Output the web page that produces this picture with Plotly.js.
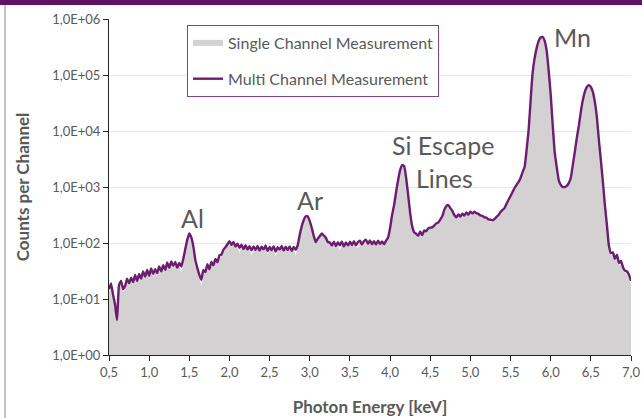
<!DOCTYPE html>
<html>
<head>
<meta charset="utf-8">
<script src="https://cdn.plot.ly/plotly-3.0.1.min.js"></script>
<style>
  html, body { margin: 0; padding: 0; background: #ffffff; }
  #wrap { position: relative; width: 642px; height: 418px; overflow: hidden; }
  #chart { position: absolute; left: 0; top: 0; width: 642px; height: 418px; }
  #topbar { position: absolute; left: 0; top: 0; width: 642px; height: 5px; background: #5e1363; }
  #leftline { position: absolute; left: 4px; top: 5px; width: 2px; height: 413px; background: #c3c3c3; }
</style>
</head>
<body>
<div id="wrap">
  <div id="chart"></div>
  <div id="topbar"></div>
  <div id="leftline"></div>
</div>
<script>
// Photon energy in keV
const energy = [
  0.500, 0.525, 0.550, 0.575, 0.600, 0.625, 0.650, 0.675,
  0.700, 0.725, 0.750, 0.775, 0.800, 0.825, 0.850, 0.875,
  0.900, 0.925, 0.950, 0.975, 1.000, 1.025, 1.050, 1.075,
  1.100, 1.125, 1.150, 1.175, 1.200, 1.225, 1.250, 1.275,
  1.300, 1.325, 1.350, 1.375, 1.400, 1.425, 1.450, 1.475,
  1.500, 1.525, 1.550, 1.575, 1.600, 1.625, 1.650, 1.675,
  1.700, 1.725, 1.750, 1.775, 1.800, 1.825, 1.850, 1.875,
  1.900, 1.925, 1.950, 1.975, 2.000, 2.025, 2.050, 2.075,
  2.100, 2.125, 2.150, 2.175, 2.200, 2.225, 2.250, 2.275,
  2.300, 2.325, 2.350, 2.375, 2.400, 2.425, 2.450, 2.475,
  2.500, 2.525, 2.550, 2.575, 2.600, 2.625, 2.650, 2.675,
  2.700, 2.725, 2.750, 2.775, 2.800, 2.825, 2.850, 2.875,
  2.900, 2.925, 2.950, 2.975, 3.000, 3.025, 3.050, 3.075,
  3.100, 3.125, 3.150, 3.175, 3.200, 3.225, 3.250, 3.275,
  3.300, 3.325, 3.350, 3.375, 3.400, 3.425, 3.450, 3.475,
  3.500, 3.525, 3.550, 3.575, 3.600, 3.625, 3.650, 3.675,
  3.700, 3.725, 3.750, 3.775, 3.800, 3.825, 3.850, 3.875,
  3.900, 3.925, 3.950, 3.975, 4.000, 4.025, 4.050, 4.075,
  4.100, 4.125, 4.150, 4.175, 4.200, 4.225, 4.250, 4.275,
  4.300, 4.325, 4.350, 4.375, 4.400, 4.425, 4.450, 4.475,
  4.500, 4.525, 4.550, 4.575, 4.600, 4.625, 4.650, 4.675,
  4.700, 4.725, 4.750, 4.775, 4.800, 4.825, 4.850, 4.875,
  4.900, 4.925, 4.950, 4.975, 5.000, 5.025, 5.050, 5.075,
  5.100, 5.125, 5.150, 5.175, 5.200, 5.225, 5.250, 5.275,
  5.300, 5.325, 5.350, 5.375, 5.400, 5.425, 5.450, 5.475,
  5.500, 5.525, 5.550, 5.575, 5.600, 5.625, 5.650, 5.675,
  5.700, 5.725, 5.750, 5.775, 5.800, 5.825, 5.850, 5.875,
  5.900, 5.925, 5.950, 5.975, 6.000, 6.025, 6.050, 6.075,
  6.100, 6.125, 6.150, 6.175, 6.200, 6.225, 6.250, 6.275,
  6.300, 6.325, 6.350, 6.375, 6.400, 6.425, 6.450, 6.475,
  6.500, 6.525, 6.550, 6.575, 6.600, 6.625, 6.650, 6.675,
  6.700, 6.725, 6.750, 6.775, 6.800, 6.825, 6.850, 6.875,
  6.900, 6.925, 6.950, 6.975, 7.000
];

// Counts per channel, single channel measurement (grey area)
const singleCounts = [
  13, 17, 11, 7, 4.2, 16, 19, 13,
  15, 21, 17, 22, 18, 25, 19, 26,
  21, 28, 23, 30, 24, 32, 25, 31,
  26, 35, 28, 36, 30, 41, 33, 43,
  36, 42, 33, 40, 30, 48, 74, 110,
  142, 120, 84, 46, 33, 25, 17, 30,
  27, 38, 31, 42, 36, 47, 41, 55,
  57, 70, 78, 88, 100, 85, 96, 79,
  89, 66, 86, 72, 84, 70, 81, 60,
  80, 69, 82, 67, 79, 71, 83, 62,
  78, 68, 81, 58, 77, 70, 82, 67,
  79, 69, 80, 66, 78, 60, 86, 134,
  194, 250, 292, 290, 238, 178, 126, 98,
  112, 126, 140, 129, 117, 98, 95, 84,
  98, 81, 95, 72, 99, 79, 94, 83,
  97, 85, 100, 84, 82, 102, 87, 100,
  106, 90, 103, 88, 100, 87, 102, 89,
  99, 88, 102, 119, 178, 305, 462, 800,
  1310, 1970, 2430, 2340, 1420, 700, 333, 190,
  146, 138, 126, 151, 130, 158, 153, 172,
  178, 180, 193, 212, 220, 249, 290, 376,
  442, 460, 406, 360, 303, 276, 310, 284,
  321, 298, 337, 307, 348, 325, 348, 327,
  319, 298, 294, 275, 273, 253, 232, 244,
  257, 280, 303, 343, 376, 406, 484, 572,
  670, 792, 935, 1065, 1200, 1420, 1810, 2240,
  4520, 10200, 35000, 107000, 197000, 298000, 402000, 462000,
  472000, 401000, 264000, 117000, 44000, 12600, 4120, 2230,
  1300, 1065, 978, 978, 1022, 1150, 1420, 2410,
  4120, 7350, 12050, 21500, 35000, 49000, 59800, 64700,
  59800, 49000, 32300, 17400, 6750, 2940, 1200, 465,
  205, 85, 60, 64, 48, 57, 40, 44,
  34, 29, 28, 24, 17
];

// Counts per channel, multi channel measurement (purple line)
const multiCounts = [
  15, 19, 12, 8, 4.2, 18, 21, 15,
  17, 23, 19, 24, 20, 27, 21, 28,
  23, 31, 25, 33, 26, 35, 28, 34,
  29, 38, 31, 40, 33, 45, 36, 47,
  39, 46, 36, 44, 38, 52, 78, 115,
  148, 126, 88, 50, 36, 27, 22, 33,
  30, 42, 34, 46, 40, 52, 45, 60,
  62, 76, 84, 95, 108, 92, 104, 86,
  97, 82, 93, 78, 91, 76, 88, 74,
  87, 75, 89, 73, 86, 77, 90, 72,
  85, 74, 88, 70, 84, 76, 89, 73,
  86, 75, 87, 72, 85, 76, 92, 140,
  200, 257, 300, 298, 246, 185, 133, 104,
  120, 133, 148, 136, 124, 104, 102, 90,
  106, 88, 103, 91, 107, 86, 102, 90,
  105, 92, 108, 91, 104, 110, 94, 108,
  114, 97, 111, 95, 108, 94, 110, 96,
  107, 95, 110, 125, 185, 316, 475, 815,
  1330, 2000, 2460, 2370, 1450, 720, 345, 200,
  155, 146, 134, 160, 138, 168, 162, 182,
  188, 190, 204, 224, 232, 262, 302, 390,
  457, 475, 420, 374, 316, 288, 322, 296,
  334, 310, 350, 320, 362, 338, 362, 340,
  332, 310, 306, 286, 284, 264, 260, 254,
  268, 292, 316, 357, 390, 420, 500, 590,
  690, 815, 960, 1090, 1230, 1450, 1850, 2280,
  4600, 10400, 35700, 109000, 200000, 302000, 407000, 468000,
  478000, 407000, 269000, 120000, 45000, 12900, 4200, 2280,
  1330, 1090, 1000, 1000, 1045, 1175, 1450, 2460,
  4200, 7500, 12300, 21900, 35700, 50000, 61000, 66000,
  61000, 50000, 33000, 17800, 6900, 3000, 1230, 475,
  210, 89, 66, 68, 52, 62, 44, 48,
  37, 32, 31, 27, 21
];

const seriesNames = ["Single Channel Measurement", "Multi Channel Measurement"];

const yTickVals = [1, 10, 100, 1000, 10000, 100000, 1000000];
const yTickText = ["1,0E+00", "1,0E+01", "1,0E+02", "1,0E+03", "1,0E+04", "1,0E+05", "1,0E+06"];
const xTickVals = [0.5, 1.0, 1.5, 2.0, 2.5, 3.0, 3.5, 4.0, 4.5, 5.0, 5.5, 6.0, 6.5, 7.0];
const xTickText = ["0,5", "1,0", "1,5", "2,0", "2,5", "3,0", "3,5", "4,0", "4,5", "5,0", "5,5", "6,0", "6,5", "7,0"];

const peakLabels = ["Al", "Ar", "Si Escape", "Lines", "Mn"];

const textGray = "#595959";
const FONT = "Lato, 'Open Sans', 'DejaVu Sans', sans-serif";

const traces = [
  {
    x: energy, y: singleCounts, name: seriesNames[0],
    type: "scatter", mode: "none", fill: "tozeroy",
    fillcolor: "#d3d1d2", legendgroup: "a", hoverinfo: "skip"
  },
  {
    x: energy, y: multiCounts, name: seriesNames[1],
    type: "scatter", mode: "lines",
    line: { color: "#6c1d70", width: 2.4, shape: "spline", smoothing: 0.4 },
    legendgroup: "b", hoverinfo: "skip"
  }
];

// plot area: x 109..631, y 19..355
function px(xp) { return (xp - 109) / 522; }
function py(yp) { return (355 - yp) / 336; }

const annFont = { family: FONT, size: 25, color: textGray };
const annotations = [
  { text: peakLabels[0], x: px(192), y: py(218) },
  { text: peakLabels[1], x: px(310), y: py(200) },
  { text: peakLabels[2], x: px(443), y: py(145) },
  { text: peakLabels[3], x: px(444), y: py(178) },
  { text: peakLabels[4], x: px(572), y: py(37) }
].map(a => Object.assign(a, {
  xref: "paper", yref: "paper", xanchor: "center", yanchor: "middle",
  showarrow: false, font: annFont
}));

const layout = {
  width: 642, height: 418,
  margin: { l: 109, r: 11, t: 19, b: 63 },
  paper_bgcolor: "#ffffff", plot_bgcolor: "#ffffff",
  font: { family: FONT, color: textGray },
  showlegend: true,
  legend: {
    x: px(187), y: py(25), xanchor: "left", yanchor: "top",
    bgcolor: "#ffffff", bordercolor: "#80428c", borderwidth: 1,
    font: { family: FONT, size: 16, color: textGray },
    traceorder: "grouped", tracegroupgap: 12
  },
  xaxis: {
    range: [0.5, 7.0], tickmode: "array", tickvals: xTickVals, ticktext: xTickText,
    showgrid: false, zeroline: false, showline: true, linecolor: "#262626", linewidth: 1,
    ticks: "outside", ticklen: 5, tickcolor: "#262626",
    tickfont: { family: FONT, size: 13, color: textGray },
    title: { text: "<b>Photon Energy [keV]</b>", font: { family: FONT, size: 17, color: textGray }, standoff: 22 }
  },
  yaxis: {
    type: "log", range: [0, 6], tickmode: "array", tickvals: yTickVals, ticktext: yTickText,
    showgrid: true, gridcolor: "#e6e6e6", gridwidth: 1, zeroline: false,
    showline: true, linecolor: "#262626", linewidth: 1,
    ticks: "outside", ticklen: 5, tickcolor: "#262626",
    tickfont: { family: FONT, size: 13, color: textGray },
    title: { text: "<b>Counts per Channel</b>", font: { family: FONT, size: 17, color: textGray }, standoff: 18 }
  },
  annotations: annotations,
  hovermode: false
};

Plotly.newPlot("chart", traces, layout, { displayModeBar: false, staticPlot: true });
</script>
</body>
</html>
